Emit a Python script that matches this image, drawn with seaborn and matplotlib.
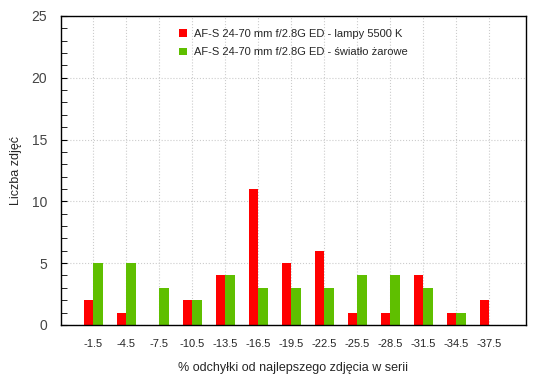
import pandas as pd
import matplotlib.pyplot as plt
import seaborn as sns

# Data
categories = ["-1.5", "-4.5", "-7.5", "-10.5", "-13.5", "-16.5", "-19.5",
              "-22.5", "-25.5", "-28.5", "-31.5", "-34.5", "-37.5"]
lampy = [2, 1, 0, 2, 4, 11, 5, 6, 1, 1, 4, 1, 2]
zarowe = [5, 5, 3, 2, 4, 3, 3, 3, 4, 4, 3, 1, 0]
series_names = ["AF-S 24-70 mm f/2.8G ED - lampy 5500 K",
                "AF-S 24-70 mm f/2.8G ED - światło żarowe"]

df = pd.DataFrame({
    "kat": categories * 2,
    "n": lampy + zarowe,
    "seria": [series_names[0]] * len(categories) + [series_names[1]] * len(categories),
})

sns.set_style("white")
plt.rcParams['font.family'] = ['Liberation Sans', 'DejaVu Sans']

fig = plt.figure(figsize=(5.5, 3.8), dpi=100)
ax = fig.add_axes([0.111, 0.145, 0.845, 0.813])

sns.barplot(data=df, x="kat", y="n", hue="seria", order=categories,
            hue_order=series_names, palette=["#FF0000", "#5FBF00"],
            width=0.58, saturation=1, linewidth=0, gap=0, ax=ax)

ax.set_ylim(0, 25)
ax.set_xlim(-0.97, 13.1)
ax.set_yticks(range(0, 26, 5))
ax.set_yticks(range(0, 26), minor=True)
ax.tick_params(axis='y', which='both', direction='in', left=True, length=4,
               labelsize=10, colors='black', pad=10)
ax.tick_params(axis='y', which='major', labelcolor='#444444')
ax.tick_params(axis='x', bottom=False, labelsize=8, pad=7)
ax.grid(True, axis='both', linestyle=':', color='#cccccc', linewidth=0.8)
ax.set_axisbelow(True)
for s in ax.spines.values():
    s.set_color('black')
    s.set_linewidth(1)

ax.set_xlabel("% odchyłki od najlepszego zdjęcia w serii", fontsize=9, labelpad=9)
ax.set_ylabel("Liczba zdjęć", fontsize=9, labelpad=7)

leg = ax.legend(loc='upper center', bbox_to_anchor=(0.5, 0.99), frameon=False,
                fontsize=8, handlelength=0.7, handleheight=0.7,
                handletextpad=0.7, labelspacing=0.75)

fig.savefig("out.png", dpi=100)
